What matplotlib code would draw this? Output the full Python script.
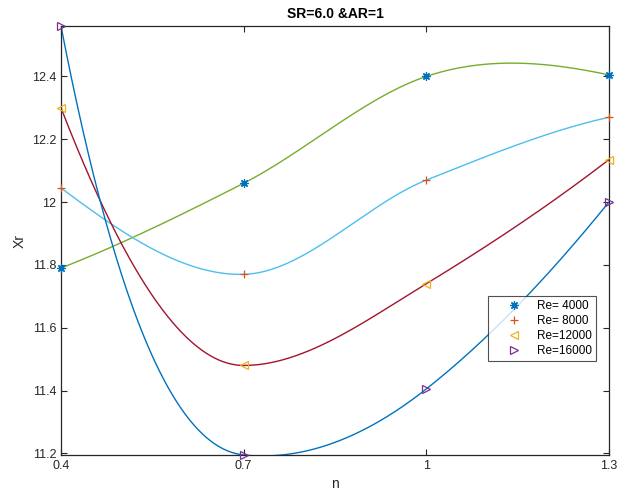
import numpy as np
import matplotlib
matplotlib.use("Agg")
import matplotlib.pyplot as plt

plt.rcParams['font.family'] = ['Liberation Sans', 'DejaVu Sans']

# data
n = [0.4, 0.7, 1.0, 1.3]
xr_4000 = [11.79, 12.06, 12.40, 12.405]
xr_8000 = [12.045, 11.77, 12.07, 12.27]
xr_12000 = [12.30, 11.48, 11.74, 12.135]
xr_16000 = [12.56, 11.195, 11.405, 12.00]

# tangent slopes of the smooth curves at each n
slope_4000 = [0.76, 0.99, 0.65, -0.41]
slope_8000 = [-1.45, 0.05, 0.77, 0.43]
slope_12000 = [-5.0, 0.0, 1.18, 1.49]
slope_16000 = [-10.0, -0.2, 1.53, 2.4]

labels = ['Re= 4000', 'Re= 8000', 'Re=12000', 'Re=16000']
series = [xr_4000, xr_8000, xr_12000, xr_16000]
slopes = [slope_4000, slope_8000, slope_12000, slope_16000]

marker_styles = [(8, 2, 0), '+', '<', '>']
marker_colors = ['#0072BD', '#D95319', '#EDB120', '#7E2F8E']
line_colors = ['#77AC30', '#4DBEEE', '#A2142F', '#0072BD']


def hermite(x, y, d, xq):
    """Piecewise cubic Hermite curve through (x, y) with slopes d."""
    x = np.asarray(x, float)
    y = np.asarray(y, float)
    d = np.asarray(d, float)
    h = np.diff(x)
    xq = np.asarray(xq, float)
    k = np.clip(np.searchsorted(x, xq) - 1, 0, len(x) - 2)
    t = (xq - x[k]) / h[k]
    h00 = 2 * t**3 - 3 * t**2 + 1
    h10 = t**3 - 2 * t**2 + t
    h01 = -2 * t**3 + 3 * t**2
    h11 = t**3 - t**2
    return (h00 * y[k] + h10 * h[k] * d[k]
            + h01 * y[k + 1] + h11 * h[k] * d[k + 1])


def plot_chart(output_path):
    fig = plt.figure(figsize=(6.29, 4.94), dpi=100)
    ax = fig.add_axes([0.097, 0.079, 0.871, 0.868])

    # markers (these carry the legend)
    for y, m, c, lab in zip(series, marker_styles, marker_colors, labels):
        filled = m == '+' or isinstance(m, tuple)
        ax.plot(n, y, linestyle='none', marker=m, markersize=6,
                markerfacecolor=c if filled else 'none',
                markeredgecolor=c, markeredgewidth=0.9, label=lab,
                clip_on=False, zorder=3)

    # smooth curves through the points
    xs = np.linspace(n[0], n[-1], 400)
    for y, d, c in zip(series, slopes, line_colors):
        ax.plot(xs, hermite(n, y, d, xs), color=c, linewidth=1.0, zorder=2)

    ax.set_xlim(0.4, 1.3)
    ax.set_ylim(11.195, 12.56)
    ax.set_xticks([0.4, 0.7, 1.0, 1.3])
    ax.set_xticklabels(['0.4', '0.7', '1', '1.3'])
    ax.set_yticks([11.2, 11.4, 11.6, 11.8, 12.0, 12.2, 12.4])
    ax.set_yticklabels(['11.2', '11.4', '11.6', '11.8', '12', '12.2', '12.4'])

    ax.tick_params(direction='in', top=True, right=True, length=4,
                   width=0.8, colors='#262626', labelsize=9, labelcolor='#262626')
    for s in ax.spines.values():
        s.set_color('#262626')
        s.set_linewidth(0.9)

    ax.set_xlabel('n', fontsize=10, color='#262626')
    ax.set_ylabel('Xr', fontsize=10, color='#262626')
    ax.set_title('SR=6.0 &AR=1', fontsize=10, fontweight='bold', color='#000000')

    leg = ax.legend(loc='upper left', bbox_to_anchor=(0.779, 0.371),
                    borderaxespad=0, fontsize=8.5, frameon=True, fancybox=False,
                    borderpad=0.35, labelspacing=0.25, handletextpad=0.1,
                    handlelength=3.7, numpoints=1)
    leg.get_frame().set_edgecolor('#262626')
    leg.get_frame().set_linewidth(0.8)

    fig.savefig(output_path, dpi=100)
    plt.close(fig)


if __name__ == "__main__":
    plot_chart('out.png')
